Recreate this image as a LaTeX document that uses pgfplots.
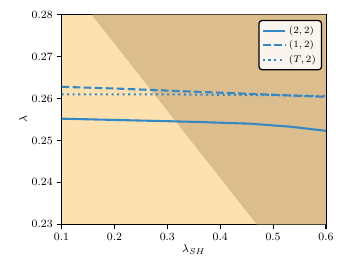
\documentclass[border=0pt]{standalone}
\usepackage{pgfplots}
\pgfplotsset{compat=1.18}
\definecolor{light}{RGB}{253,225,176}
\definecolor{dark}{RGB}{220,190,142}
\definecolor{line}{RGB}{52,136,196}
\begin{document}
\fontsize{8}{9.6}\selectfont
\begin{tikzpicture}
\begin{axis}[name=ax,
  scale only axis, width=190.4pt, height=150.9pt,
  xmin=0.1, xmax=0.6, ymin=0.23, ymax=0.28,
  xtick={0.1,0.2,0.3,0.4,0.5,0.6},
  ytick={0.23,0.24,0.25,0.26,0.27,0.28},
  xticklabel style={/pgf/number format/fixed,/pgf/number format/precision=2, font=\fontsize{8.3}{9.6}\selectfont},
  yticklabel style={/pgf/number format/fixed,/pgf/number format/fixed zerofill,/pgf/number format/precision=2, font=\fontsize{8.3}{9.6}\selectfont},
  tick align=outside, tick pos=left, major tick length=3.5pt,
  tick style={black, line width=0.8pt},
  axis line style={line width=0.8pt},
  axis background/.style={fill=light},
  xlabel={$\lambda_{SH}$}, ylabel={$\lambda$},
  label style={font=\fontsize{8.3}{9.6}\selectfont},
  xlabel style={yshift=2pt}, ylabel style={yshift=-2pt},
  legend style={font=\fontsize{7}{8}\selectfont, draw=black, line width=0.9pt, fill=white, fill opacity=0.85, text opacity=1, rounded corners=2pt, at={(0.985,0.975)}, anchor=north east, inner sep=2pt, row sep=0pt},
  legend cell align=left,
  legend image code/.code={\draw[#1, line width=1.5pt] (0pt,0pt) -- (16pt,0pt);},
]
\addplot[draw=none, fill=dark, forget plot] coordinates {(0.157,0.28) (0.6,0.28) (0.6,0.23) (0.469,0.23)} -- cycle;
\addplot[line, line width=1.5pt] coordinates {
(0.1,0.2552) (0.2,0.2549) (0.3,0.2546) (0.362,0.2544) (0.457,0.2540) (0.532,0.2533) (0.6,0.2523)};
\addlegendentry{$(2,2)$}
\addplot[line, line width=1.5pt, dash pattern=on 5.55pt off 2.4pt] coordinates {
(0.1,0.2628) (0.2,0.2624) (0.3,0.2619) (0.4,0.2614) (0.5,0.2609) (0.6,0.2604)};
\addlegendentry{$(1,2)$}
\addplot[line, line width=1.5pt, dash pattern=on 1.5pt off 2.5pt] coordinates {
(0.1,0.2610) (0.2,0.2610) (0.3,0.2610) (0.4,0.2609) (0.5,0.2608) (0.6,0.2606)};
\addlegendentry{$(T,2)$}
\end{axis}
\path ([shift={(-44.3pt,-36.5pt)}]ax.south west) rectangle ([shift={(14.4pt,10.6pt)}]ax.north east);
\end{tikzpicture}
\end{document}
